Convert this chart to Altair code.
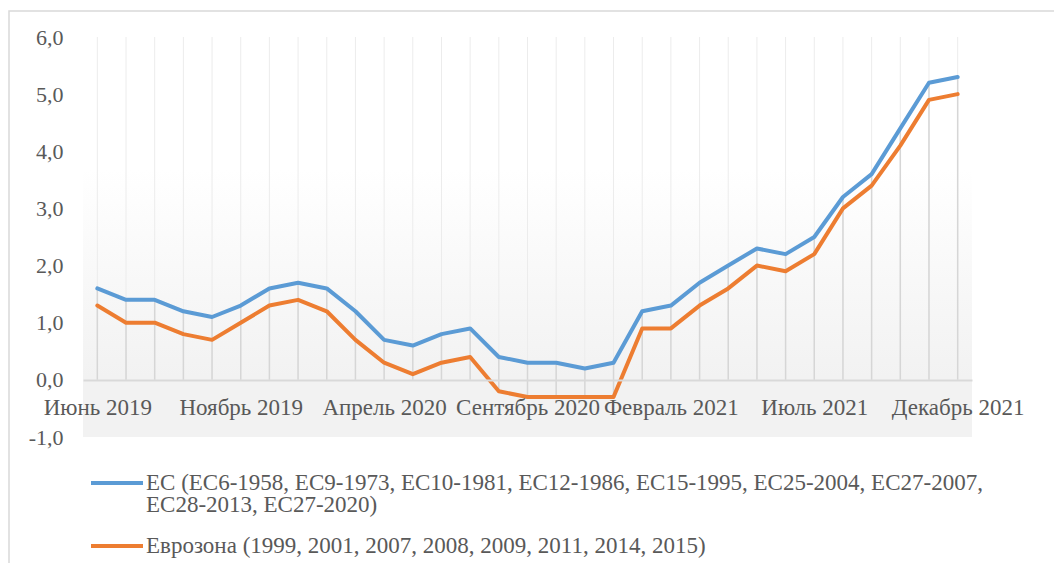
import altair as alt
import pandas as pd

months = [
    "Июнь 2019", "Июль 2019", "Август 2019", "Сентябрь 2019", "Октябрь 2019",
    "Ноябрь 2019", "Декабрь 2019", "Январь 2020", "Февраль 2020", "Март 2020",
    "Апрель 2020", "Май 2020", "Июнь 2020", "Июль 2020", "Август 2020",
    "Сентябрь 2020", "Октябрь 2020", "Ноябрь 2020", "Декабрь 2020", "Январь 2021",
    "Февраль 2021", "Март 2021", "Апрель 2021", "Май 2021", "Июнь 2021",
    "Июль 2021", "Август 2021", "Сентябрь 2021", "Октябрь 2021", "Ноябрь 2021",
    "Декабрь 2021",
]
eu = [1.6, 1.4, 1.4, 1.2, 1.1, 1.3, 1.6, 1.7, 1.6, 1.2, 0.7, 0.6, 0.8, 0.9, 0.4,
      0.3, 0.3, 0.2, 0.3, 1.2, 1.3, 1.7, 2.0, 2.3, 2.2, 2.5, 3.2, 3.6, 4.4, 5.2, 5.3]
ez = [1.3, 1.0, 1.0, 0.8, 0.7, 1.0, 1.3, 1.4, 1.2, 0.7, 0.3, 0.1, 0.3, 0.4, -0.2,
      -0.3, -0.3, -0.3, -0.3, 0.9, 0.9, 1.3, 1.6, 2.0, 1.9, 2.2, 3.0, 3.4, 4.1, 4.9, 5.0]
tick_months = months[::5]
y_ticks = [-1, 0, 1, 2, 3, 4, 5, 6]

series_eu = "ЕС (ЕС6-1958, ЕС9-1973, ЕС10-1981, ЕС12-1986, ЕС15-1995, ЕС25-2004, ЕС27-2007, ЕС28-2013, ЕС27-2020)"
series_eu_lines = ["ЕС (ЕС6-1958, ЕС9-1973, ЕС10-1981, ЕС12-1986, ЕС15-1995, ЕС25-2004, ЕС27-2007,",
                   "ЕС28-2013, ЕС27-2020)"]
series_ez = "Еврозона (1999, 2001, 2007, 2008, 2009, 2011, 2014, 2015)"
colors = ["#5b9bd5", "#ed7d31"]

n = len(months)
df_long = pd.DataFrame({
    "month": months * 2,
    "idx": list(range(n)) * 2,
    "value": eu + ez,
    "series": [series_eu] * n + [series_ez] * n,
})
df_wide = pd.DataFrame({
    "month": months,
    "top": [max(a, b, 0) for a, b in zip(eu, ez)],
    "bottom": [min(a, b, 0) for a, b in zip(eu, ez)],
})

W, H = 889, 400
FONT = "Liberation Serif"
TXT = "#595959"

x_scale = alt.Scale(type="point", domain=months, padding=0.5)
y_scale = alt.Scale(domain=[-1, 6], nice=False, zero=False)

x_axis = alt.Axis(
    values=tick_months, offset=-57, domainColor="#d9d9d9", domainWidth=2,
    ticks=False, grid=False, labelAngle=0, labelPadding=27, labelBaseline="middle",
    labelAlign="center", labelFont=FONT, labelFontSize=23, labelColor=TXT,
    labelOverlap=False, labelBound=False, labelFlush=False, title=None, zindex=1,
)
y_axis = alt.Axis(
    values=y_ticks, domain=False, ticks=False, grid=False, labelPadding=20,
    labelFont=FONT, labelFontSize=22, labelColor=TXT, title=None, zindex=1,
    labelExpr="replace(replace(format(datum.value, '.1f'), '.', ','), '\u2212', '-')",
)

frame = alt.Chart(alt.Data(values=[{}])).mark_rect(
    fillOpacity=0, stroke="#d9d9d9", strokeWidth=1.5
).encode(x=alt.value(-74), x2=alt.value(1300), y=alt.value(-26), y2=alt.value(900))

bg = alt.Chart(alt.Data(values=[{}])).mark_rect(
    fill=alt.Gradient(
        gradient="linear", x1=0, x2=0, y1=0, y2=1,
        stops=[
            alt.GradientStop(color="#ffffff", offset=0),
            alt.GradientStop(color="#ffffff", offset=0.33),
            alt.GradientStop(color="#f2f2f2", offset=0.85),
            alt.GradientStop(color="#f2f2f2", offset=1),
        ],
    )
).encode(x=alt.value(0), x2=alt.value(W), y=alt.value(0), y2=alt.value(H))

grid = alt.Chart(df_wide).mark_rule(color="#ececec", strokeWidth=1).encode(
    x=alt.X("month:O", scale=x_scale, axis=x_axis),
    y=alt.Y(datum=6, scale=y_scale, axis=y_axis),
    y2=alt.datum(0),
)

drops = alt.Chart(df_wide).mark_rule(color="#d6d6d6", strokeWidth=1.5).encode(
    x=alt.X("month:O", scale=x_scale, axis=x_axis),
    y=alt.Y("top:Q", scale=y_scale, axis=y_axis),
    y2="bottom:Q",
)

label_expr = (
    f"datum.label == '{series_eu}' ? ['{series_eu_lines[0]}', '{series_eu_lines[1]}'] : datum.label"
)

lines = alt.Chart(df_long).mark_line(strokeWidth=4, strokeCap="round", strokeJoin="round").encode(
    x=alt.X("month:O", scale=x_scale, axis=x_axis),
    y=alt.Y("value:Q", scale=y_scale, axis=y_axis),
    color=alt.Color(
        "series:N",
        scale=alt.Scale(domain=[series_eu, series_ez], range=colors),
        legend=alt.Legend(
            orient="none", legendX=6, legendY=418, title=None, direction="vertical",
            symbolType="stroke", symbolSize=2704, symbolStrokeWidth=4,
            labelFont=FONT, labelFontSize=23, labelColor=TXT, labelLimit=2000,
            labelOffset=1, labelExpr=label_expr, rowPadding=1, padding=0,
        ),
    ),
    order=alt.Order("idx:Q"),
)

chart = alt.layer(frame, bg, grid, drops, lines).properties(
    width=W, height=H,
    autosize=alt.AutoSizeParams(type="none"),
    padding={"left": 75, "top": 29, "right": 82, "bottom": 126},
).configure(style={"guide-label": {"lineHeight": 22}}).configure_view(stroke=None)

chart.save("out.html", embed_options={"renderer": "svg", "actions": False})
